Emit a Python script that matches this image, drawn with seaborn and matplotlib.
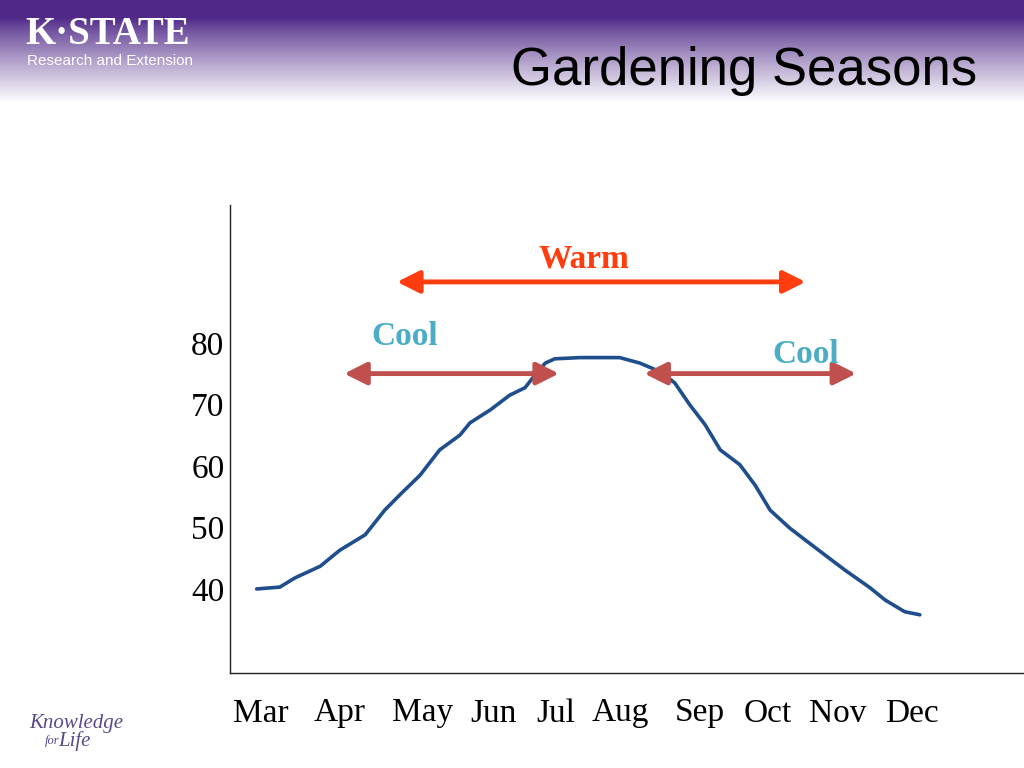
import numpy as np
import pandas as pd
import matplotlib
matplotlib.use("Agg")
import matplotlib.pyplot as plt
import seaborn as sns

# =========================
# DATA
# =========================

# month position (Mar = 3 ... Dec = 12) and temperature
month_pos = [2.94, 3.26, 3.47, 3.82, 4.09, 4.44, 4.71, 4.92, 5.20, 5.47,
             5.75, 5.89, 6.17, 6.44, 6.65, 6.79, 6.93, 7.06, 7.41, 7.96,
             8.24, 8.52, 8.72, 8.93, 9.14, 9.35, 9.62, 9.83, 10.04, 10.31,
             10.52, 10.80, 11.07, 11.42, 11.63, 11.90, 12.11]
temperature = [40.0, 40.3, 41.8, 43.7, 46.3, 48.8, 52.8, 55.3, 58.5, 62.6,
               65.0, 67.0, 69.1, 71.5, 72.7, 74.8, 76.7, 77.4, 77.6, 77.6,
               76.7, 75.3, 73.5, 69.9, 66.7, 62.6, 60.2, 56.9, 52.8, 49.9,
               48.0, 45.5, 43.1, 40.2, 38.2, 36.3, 35.8]

month_labels = ["Mar", "Apr", "May", "Jun", "Jul", "Aug", "Sep", "Oct", "Nov", "Dec"]
month_ticks = [3.0, 4.09, 5.23, 6.22, 7.07, 7.97, 9.07, 10.0, 10.98, 12.0]
temp_ticks = [40, 50, 60, 70, 80]

# season spans (start, end, level)
warm_span = (4.88, 10.53, 89.9)
cool_spring = (4.15, 7.12, 75.0)
cool_fall = (8.30, 11.23, 75.0)

df = pd.DataFrame({"month": month_pos, "temp": temperature})

# =========================
# FIGURE
# =========================

sns.set_style("white")
plt.rcParams["font.family"] = ["Liberation Serif", "DejaVu Serif"]

fig = plt.figure(figsize=(10.24, 7.68), dpi=100)

# header gradient band
hdr = fig.add_axes([0, 1 - 110 / 768, 1, 110 / 768])
purple = np.array([0x4f, 0x28, 0x88]) / 255.0
rows = np.linspace(0, 1, 110)
fade = np.clip((rows - 0.16) / 0.78, 0, 1) ** 0.85
grad = purple[None, :] * (1 - fade[:, None]) + fade[:, None]
hdr.imshow(grad[:, None, :], aspect="auto", extent=[0, 1, 1, 0])
hdr.set_axis_off()

fig.text(0.025, 0.955, "K·STATE", color="white", fontsize=28, fontweight="bold",
         family=["Liberation Serif"], va="center", ha="left")
fig.text(0.026, 0.921, "Research and Extension", color="white", fontsize=11,
         family=["Liberation Sans"], va="center", ha="left")
fig.text(0.954, 0.907, "Gardening Seasons", color="black", fontsize=38,
         family=["Liberation Sans"], va="center", ha="right")

fig.text(0.029, 0.058, "Knowledge", color="#5a4a8a", fontsize=15, style="italic",
         family=["Liberation Serif"], va="center", ha="left")
fig.text(0.044, 0.035, "for", color="#5a4a8a", fontsize=9, style="italic",
         family=["Liberation Serif"], va="center", ha="left")
fig.text(0.057, 0.035, "Life", color="#5a4a8a", fontsize=15, style="italic",
         family=["Liberation Serif"], va="center", ha="left")

ax = fig.add_axes([230 / 1024, 1 - 673 / 768, 1 - 230 / 1024, (673 - 205) / 768])

sns.lineplot(data=df, x="month", y="temp", ax=ax, color="#1f4e8c",
             linewidth=2.6, estimator=None, sort=False)

ax.set_xlim(2.571, 13.55)
ax.set_ylim(26.34, 102.4)
ax.set_xticks(month_ticks)
ax.set_xticklabels(month_labels)
ax.set_yticks(temp_ticks)
ax.tick_params(axis="both", length=0, labelsize=24, colors="black")
ax.tick_params(axis="x", pad=18)
ax.tick_params(axis="y", pad=4)
ax.set_xlabel("")
ax.set_ylabel("")
ax.set_facecolor("none")

for side in ["top", "right"]:
    ax.spines[side].set_visible(False)
for side in ["left", "bottom"]:
    ax.spines[side].set_color("#222222")
    ax.spines[side].set_linewidth(1.0)


def season_arrow(span, color):
    x0, x1, lvl = span
    ax.annotate("", xy=(x1, lvl), xytext=(x0, lvl),
                arrowprops=dict(arrowstyle="<|-|>,head_length=0.9,head_width=0.45",
                                color=color, lw=3.5, mutation_scale=15,
                                shrinkA=0, shrinkB=0))


season_arrow(warm_span, "#ff3d0f")
season_arrow(cool_spring, "#c0504d")
season_arrow(cool_fall, "#c0504d")

ax.text(7.47, 93.7, "Warm", color="#ff3d0f",
        fontsize=24, fontweight="bold", ha="center", va="center")
ax.text(4.98, 81.0, "Cool", color="#4bacc6", fontsize=24, fontweight="bold",
        ha="center", va="center")
ax.text(10.53, 78.1, "Cool", color="#4bacc6", fontsize=24, fontweight="bold",
        ha="center", va="center")

fig.savefig("out.png", dpi=100)
plt.close(fig)
